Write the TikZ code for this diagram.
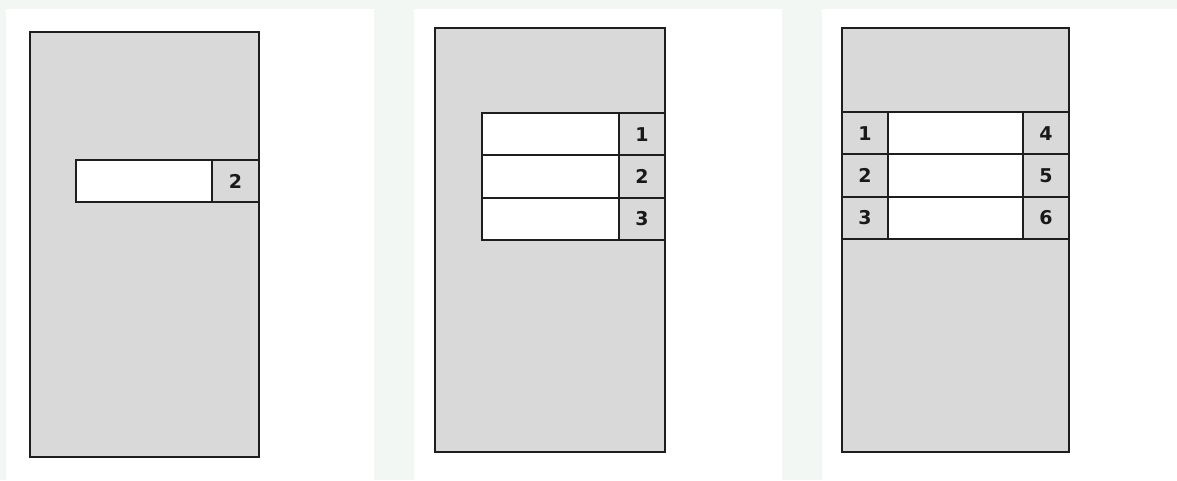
\documentclass[tikz,border=0pt]{standalone}
\usepackage{fontspec}
\setmainfont{DejaVu Sans}
\definecolor{pagebg}{HTML}{F2F7F4}
\definecolor{boxgray}{HTML}{D9D9D9}
\definecolor{edge}{HTML}{1E1E1E}
\tikzset{
  frame/.style={draw=edge,fill=boxgray,line width=2pt,anchor=north west,inner sep=0pt,outer sep=0pt},
  slot/.style={frame,fill=white,minimum height=42.3pt},
  tab/.style={frame,minimum width=46pt,minimum height=42.3pt,text=black!90,font=\bfseries\fontsize{19}{19}\selectfont}
}
\begin{document}
\begin{tikzpicture}[x=1pt,y=-1pt]
\fill[pagebg] (0,0) rectangle (1177,480);
\fill[white] (6,9) rectangle (374,480);
\fill[white] (414,9) rectangle (782,480);
\fill[white] (822,9) rectangle (1177,480);
% one row
\node[frame,minimum width=229pt,minimum height=425pt] (fa) at (30,32) {};
\node[slot,minimum width=136pt] (sa) at (76,160) {};
\node[tab,minimum width=47pt] (ta) at (sa.north east) {2};
% three rows, numbers on the right
\node[frame,minimum width=230pt,minimum height=424pt] (fb) at (435,28) {};
\foreach \i in {1,2,3}{
  \node[slot,minimum width=137pt] (sb\i) at (482,{113+42.3*(\i-1)}) {};
  \node[tab] (tb\i) at (sb\i.north east) {\i};
}
% three rows, numbers on both sides
\node[frame,minimum width=227pt,minimum height=424pt] (fc) at (842,28) {};
\foreach \i/\j in {1/4,2/5,3/6}{
  \node[tab] (tl\i) at (842,{112+42.3*(\i-1)}) {\i};
  \node[slot,minimum width=135pt] (sc\i) at (tl\i.north east) {};
  \node[tab] (tr\i) at (sc\i.north east) {\j};
}
\end{tikzpicture}
\end{document}
